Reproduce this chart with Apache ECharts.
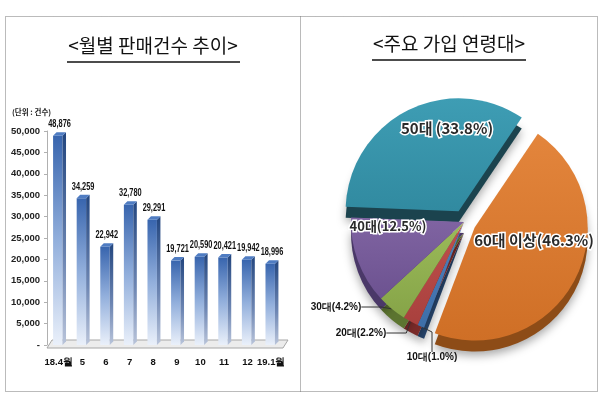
<!DOCTYPE html>
<html><head><meta charset="utf-8">
<script src="https://cdn.jsdelivr.net/npm/echarts@6/dist/echarts.min.js"></script>
<style>html,body{margin:0;padding:0;background:#fff}#c{width:600px;height:400px}</style>
</head><body><div id="c"></div>
<script>
// ---- data ----
const months = ['18.4월','5','6','7','8','9','10','11','12','19.1월'];
const sales = [48876,34259,22942,32780,29291,19721,20590,20421,19942,18996];
const ageGroups = ['60대 이상','10대','20대','30대','40대','50대'];
const ageShares = [46.3,1.0,2.2,4.2,12.5,33.8];
const ageLabels = ['60대 이상(46.3%)','10대(1.0%)','20대(2.2%)','30대(4.2%)','40대(12.5%)','50대 (33.8%)'];
const yTickMax = 50000, yTickStep = 5000;

const NARROW = '"Liberation Sans Narrow","Arial Narrow","Liberation Sans",sans-serif';
const KR = '"Noto Sans CJK KR","Noto Sans",sans-serif';

const topColors = ['#e3853c','#4f81bd','#c0504d','#9bbb59','#8064a2','#3e9db4'];
const lowColors = ['#cf6f26','#3e6ea8','#a8403d','#86a448','#6c5290','#318aa0'];
const sideColors = ['#8d4c17','#27456d','#7a2b29','#5c7430','#4a3868','#1b434e'];

const fmt = v => v.toString().replace(/\B(?=(\d{3})+(?!\d))/g, ',');

const DX = 3.5, DY = 3.5;
function renderBar(params, api) {
  const i = api.value(0), v = api.value(1);
  const t = api.coord([i, v]);
  const b = api.coord([i, 0]);
  const bw = api.size([1, 0])[0];
  const w = bw * 0.4;
  const x0 = t[0] - w / 2 - 1, x1 = x0 + w;
  return {
    type: 'group',
    children: [
      { type: 'rect', shape: { x: x0, y: t[1], width: w, height: b[1] - t[1] },
        style: { fill: new echarts.graphic.LinearGradient(0, 0, 0, 1, [
          { offset: 0, color: '#3865ae' }, { offset: 0.5, color: '#92afdc' }, { offset: 1, color: '#eaf0fa' }]) } },
      { type: 'polygon', shape: { points: [[x1, t[1]], [x1 + DX, t[1] - DY], [x1 + DX, b[1] - DY], [x1, b[1]]] },
        style: { fill: new echarts.graphic.LinearGradient(0, 0, 0, 1, [
          { offset: 0, color: '#23467f' }, { offset: 0.6, color: '#6d86b3' }, { offset: 1, color: '#b9c4da' }]) } },
      { type: 'polygon', shape: { points: [[x0, t[1]], [x0 + DX, t[1] - DY], [x1 + DX, t[1] - DY], [x1, t[1]]] },
        style: { fill: '#4f7cc2' } },
      { type: 'text', x: (x0 + x1 + DX) / 2, y: t[1] - DY - 3, scaleX: 0.74,
        style: { text: fmt(v), x: 0, y: 0,
        align: 'center', verticalAlign: 'bottom', font: 'bold 10px ' + NARROW, fill: '#111' } }
    ]
  };
}
function renderFloor(params, api) {
  const b = api.coord([0, 0]);
  const bw = api.size([1, 0])[0];
  const L = b[0] - bw / 2, R = L + bw * months.length;
  const y = b[1];
  return {
    type: 'polygon',
    shape: { points: [[L, y + 3], [R, y + 3], [R + 5, y - 5], [L + 5, y - 5]] },
    style: { fill: '#ececec', stroke: '#a6a6a6', lineWidth: 1 }
  };
}

const pieCenter = [464, 222], pieR = 113, pieDepth = 11, pieStart = 56;
const labelPos = { 0: [534, 240], 1: [432, 357], 2: [361, 333], 3: [336, 307], 4: [388, 226], 5: [447, 128] };
const isBig = i => i === 0 || i >= 4;
const isExploded = i => i === 0 || i === 5;

const chart = echarts.init(document.getElementById('c'));
chart.setOption({
  animation: false,
  textStyle: { fontFamily: KR },
  grid: { left: 47, right: 317, top: 131, bottom: 55 },
  xAxis: {
    type: 'category', data: months,
    axisLine: { show: false },
    axisTick: { show: false },
    axisLabel: { interval: 0, margin: 12, fontSize: 9.5, fontWeight: 'bold', color: '#111', fontFamily: NARROW }
  },
  yAxis: {
    type: 'value', min: 0, max: yTickMax, interval: yTickStep,
    axisLine: { show: true, lineStyle: { color: '#b0b0b0' } },
    axisTick: { show: true, length: 3, lineStyle: { color: '#b0b0b0' } },
    splitLine: { show: false },
    axisLabel: { margin: 7, fontSize: 9.5, fontWeight: 'bold', color: '#222', fontFamily: NARROW,
      formatter: v => v === 0 ? '-' : fmt(v) }
  },
  graphic: [
    { type: 'rect', shape: { x: 5.5, y: 16.5, width: 592, height: 375 },
      style: { fill: 'none', stroke: '#777', lineWidth: 1, lineDash: [1, 1] }, z: 0 },
    { type: 'line', shape: { x1: 300.5, y1: 16.5, x2: 300.5, y2: 391.5 },
      style: { stroke: '#777', lineWidth: 1, lineDash: [1, 1] } },
    { type: 'text', style: { text: '<월별 판매건수 추이>', x: 153, y: 46, align: 'center', verticalAlign: 'middle',
      font: '19px ' + KR, fill: '#111' } },
    { type: 'line', shape: { x1: 67, y1: 62, x2: 240, y2: 62 }, style: { stroke: '#111', lineWidth: 1.5 } },
    { type: 'text', style: { text: '<주요 가입 연령대>', x: 449, y: 44, align: 'center', verticalAlign: 'middle',
      font: '19px ' + KR, fill: '#111' } },
    { type: 'line', shape: { x1: 372, y1: 60, x2: 526, y2: 60 }, style: { stroke: '#111', lineWidth: 1.5 } },
    { type: 'text', style: { text: '(단위 : 건수)', x: 12, y: 112, align: 'left', verticalAlign: 'middle',
      font: 'bold 7.5px ' + KR, fill: '#222' } }
  ],
  series: [
    { type: 'custom', renderItem: renderFloor, data: [[0, 0]], silent: true, z: 1 },
    { type: 'custom', renderItem: renderBar, data: sales.map((v, i) => [i, v]), z: 2 },
    // depth (side faces) of the 3D pie
    {
      type: 'pie', center: [pieCenter[0], pieCenter[1] + pieDepth], radius: pieR, startAngle: pieStart,
      selectedMode: 'multiple', selectedOffset: 12, silent: true, z: 1,
      label: { show: false }, labelLine: { show: false },
      itemStyle: { shadowBlur: 10, shadowColor: 'rgba(0,0,0,0.35)', shadowOffsetY: 4 },
      data: ageGroups.map((n, i) => ({ name: n, value: ageShares[i], selected: isExploded(i),
        itemStyle: { color: sideColors[i] } }))
    },
    // top faces of the 3D pie + outside labels of the small slices
    {
      type: 'pie', center: pieCenter, radius: pieR, startAngle: pieStart,
      selectedMode: 'multiple', selectedOffset: 12, z: 3,
      itemStyle: { borderWidth: 0 },
      labelLine: { show: true, length: 10, length2: 20, lineStyle: { color: '#333', width: 1 } },
      labelLayout: function (p) {
        const pos = labelPos[p.dataIndex];
        return { x: pos[0], y: pos[1], align: 'center', verticalAlign: 'middle' };
      },
      data: ageGroups.map((n, i) => ({
        name: n, value: ageShares[i], selected: isExploded(i),
        itemStyle: { color: new echarts.graphic.LinearGradient(0, 0, 0, 1, [
          { offset: 0, color: topColors[i] }, { offset: 1, color: lowColors[i] }]) },
        label: {
          show: !isBig(i), position: 'outside', formatter: ageLabels[i],
          fontSize: 10, fontWeight: 'bold', color: '#111', fontFamily: NARROW
        },
        labelLine: { show: !isBig(i) }
      }))
    },
    // transparent overlay carrying the inside labels of the big slices
    {
      type: 'pie', center: pieCenter, radius: pieR, startAngle: pieStart, silent: true, z: 4,
      itemStyle: { color: 'rgba(0,0,0,0)' },
      labelLine: { show: false },
      labelLayout: function (p) {
        const pos = labelPos[p.dataIndex];
        return { x: pos[0], y: pos[1], align: 'center', verticalAlign: 'middle' };
      },
      data: ageGroups.map((n, i) => ({
        name: n, value: ageShares[i],
        label: {
          show: isBig(i), position: 'inside', formatter: ageLabels[i], fontFamily: KR,
          fontSize: i === 4 ? 13 : 15, fontWeight: 'bold', color: '#2a2a2a',
          textBorderColor: '#fff', textBorderWidth: 3
        }
      }))
    }
  ]
});
</script></body></html>
